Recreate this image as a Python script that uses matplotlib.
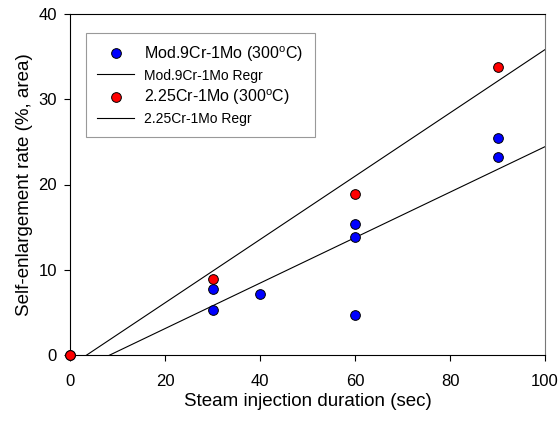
import numpy as np
import matplotlib
matplotlib.use('Agg')
import matplotlib.pyplot as plt

plt.rcParams['font.family'] = ['Liberation Sans', 'DejaVu Sans']

# Mod.9Cr-1Mo (300 C)
x_mod = [0, 30, 30, 40, 60, 60, 60, 90, 90]
y_mod = [0, 7.7, 5.3, 7.1, 15.4, 13.8, 4.65, 25.4, 23.2]
# 2.25Cr-1Mo (300 C)
x_cr = [0, 30, 60, 90]
y_cr = [0, 8.9, 18.9, 33.8]

xticks = [0, 20, 40, 60, 80, 100]
yticks = [0, 10, 20, 30, 40]

fig = plt.figure(figsize=(5.59, 4.21), dpi=100)
ax = fig.add_axes([70/559, 1 - 355/421, 475/559, 341/421])

xx = np.array([0, 100])
p_mod = np.polyfit(x_mod, y_mod, 1)
p_cr = np.polyfit(x_cr, y_cr, 1)

ax.plot(x_mod, y_mod, 'o', color='blue', mec='black', mew=0.7, ms=7,
        label='Mod.9Cr-1Mo (300$^{\\mathregular{o}}$C)', zorder=3, clip_on=False)
ax.plot(xx, np.polyval(p_mod, xx), color='black', lw=0.8,
        label='Mod.9Cr-1Mo Regr')
ax.plot(x_cr, y_cr, 'o', color='red', mec='black', mew=0.7, ms=7,
        label='2.25Cr-1Mo (300$^{\\mathregular{o}}$C)', zorder=4, clip_on=False)
ax.plot(xx, np.polyval(p_cr, xx), color='black', lw=0.8,
        label='2.25Cr-1Mo Regr')

ax.set_xlim(0, 100)
ax.set_ylim(0, 40)
ax.set_xticks(xticks)
ax.set_yticks(yticks)
ax.tick_params(direction='out', length=4.5, width=0.8, labelsize=12)
ax.tick_params(axis='x', pad=9)
ax.tick_params(axis='y', pad=5)
ax.spines['right'].set_color('#777777')
ax.set_xlabel('Steam injection duration (sec)', fontsize=13.5, labelpad=3)
ax.set_ylabel('Self-enlargement rate (%, area)', fontsize=13.5, labelpad=4)

leg = ax.legend(loc='upper left', bbox_to_anchor=(0.034, 0.944),
                borderaxespad=0, fancybox=False, edgecolor='#999999',
                framealpha=1, handlelength=2.3, handletextpad=0.65,
                labelspacing=0.3, borderpad=0.7, fontsize=11.5)
leg.get_frame().set_linewidth(0.8)
for i, t in enumerate(leg.get_texts()):
    t.set_fontsize(11.5 if i % 2 == 0 else 10)

fig.savefig('out.png', dpi=100)
